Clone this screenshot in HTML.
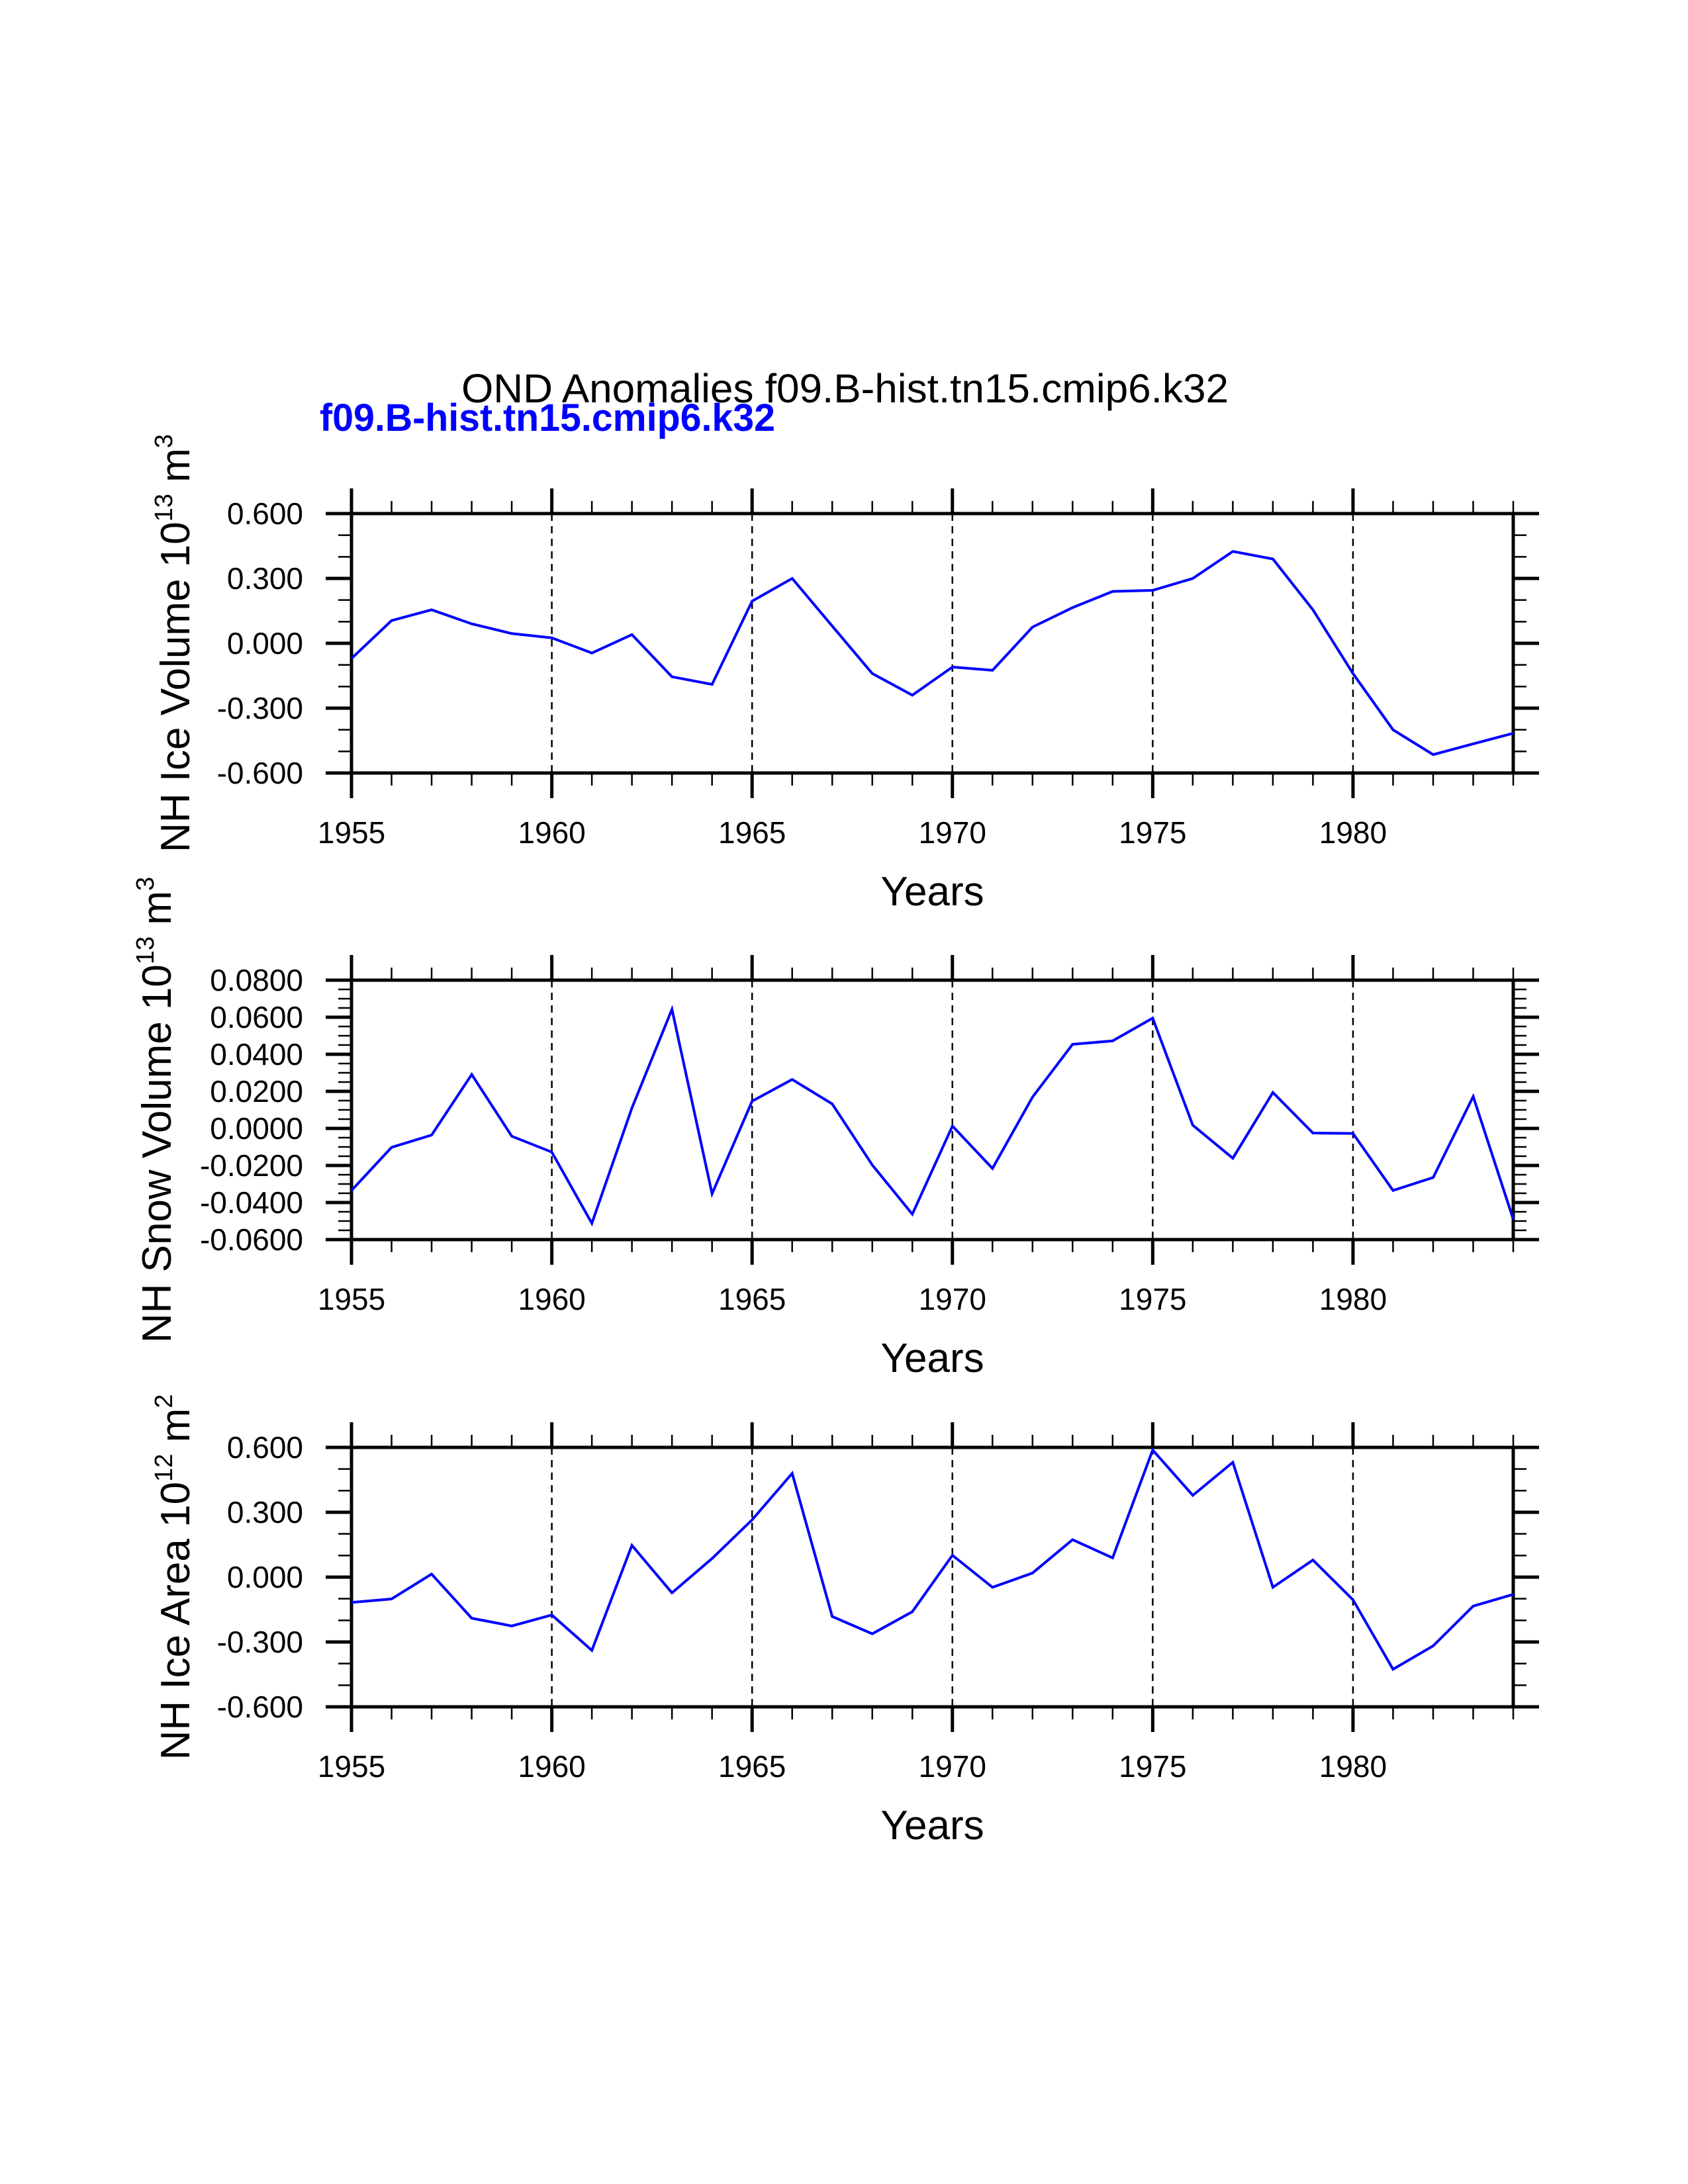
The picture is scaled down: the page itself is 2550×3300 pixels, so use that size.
<!DOCTYPE html>
<html><head><meta charset="utf-8"><style>
html,body{margin:0;padding:0;background:#fff}
svg{display:block}
text{font-family:"Liberation Sans",Arial,sans-serif}
</style></head><body>
<svg id="chart" width="2550" height="3300" viewBox="0 0 2550 3300" xmlns="http://www.w3.org/2000/svg">
<rect width="2550" height="3300" fill="#fff"/>
<text x="697" y="608" font-size="61" textLength="1159" lengthAdjust="spacingAndGlyphs">OND Anomalies f09.B-hist.tn15.cmip6.k32</text>
<text x="483" y="651" font-size="58" font-weight="bold" fill="#0000ff" textLength="688" lengthAdjust="spacingAndGlyphs">f09.B-hist.tn15.cmip6.k32</text>
<g id="panels"></g>
</svg>
<script>
const years = [1955,1956,1957,1958,1959,1960,1961,1962,1963,1964,1965,1966,1967,1968,1969,1970,1971,1972,1973,1974,1975,1976,1977,1978,1979,1980,1981,1982,1983,1984];
const iceVolume = [-0.07,0.105,0.155,0.09,0.045,0.025,-0.045,0.04,-0.155,-0.19,0.195,0.30,0.08,-0.14,-0.24,-0.11,-0.125,0.075,0.165,0.24,0.245,0.30,0.425,0.39,0.155,-0.14,-0.40,-0.515,-0.465,-0.416];
const snowVolume = [-0.0335,-0.0102,-0.0036,0.0291,-0.0042,-0.0128,-0.0512,0.0110,0.0643,-0.0353,0.0147,0.0264,0.0132,-0.0197,-0.0463,0.0013,-0.0216,0.0169,0.0454,0.0472,0.0595,0.0017,-0.0161,0.0194,-0.0025,-0.0027,-0.0335,-0.0265,0.0172,-0.049];
const iceArea = [-0.117,-0.101,0.014,-0.19,-0.226,-0.175,-0.339,0.147,-0.073,0.086,0.265,0.48,-0.182,-0.262,-0.16,0.101,-0.047,0.019,0.173,0.089,0.588,0.378,0.531,-0.047,0.079,-0.105,-0.426,-0.318,-0.134,-0.08];
const xTickLabels = ["1955","1960","1965","1970","1975","1980"];
const iceTickLabels = ["-0.600","-0.300","0.000","0.300","0.600"];
const snowTickLabels = ["-0.0600","-0.0400","-0.0200","0.0000","0.0200","0.0400","0.0600","0.0800"];

const NS="http://www.w3.org/2000/svg";
const root=document.getElementById('panels');
function mk(tag,attrs,parent){const e=document.createElementNS(NS,tag);for(const k in attrs)e.setAttribute(k,attrs[k]);(parent||root).appendChild(e);return e;}

const L=531, R=2286, H=392;
const panels=[
 {top:776,vals:iceVolume,ymin:-0.6,ymax:0.6,major:0.3,minor:0.1,labels:iceTickLabels,name:"ice-volume",title:"NH Ice Volume 10",sup1:"13",unit:" m",sup2:"3",tx:286},
 {top:1481,vals:snowVolume,ymin:-0.06,ymax:0.08,major:0.02,minor:0.005,labels:snowTickLabels,name:"snow-volume",title:"NH Snow Volume 10",sup1:"13",unit:" m",sup2:"3",tx:258},
 {top:2187,vals:iceArea,ymin:-0.6,ymax:0.6,major:0.3,minor:0.1,labels:iceTickLabels,name:"ice-area",title:"NH Ice Area 10",sup1:"12",unit:" m",sup2:"2",tx:286}
];
const x0=years[0], x1=years[years.length-1];
function xs(v){return L+(v-x0)/(x1-x0)*(R-L);}

panels.forEach(p=>{
 const T=p.top,B=p.top+H;
 const ys=v=>B-(v-p.ymin)/(p.ymax-p.ymin)*H;
 const g=mk('g',{});
 
 
 // grid dashed
 xTickLabels.forEach(s=>{const yr=+s; if(yr===x0) return;
  const l=mk('line',{x1:xs(yr),x2:xs(yr),y1:T,y2:B,stroke:'#000','stroke-width':2.5,'stroke-dasharray':'11,8'},g);
  
  
 });
 // x ticks
 for(let yr=x0; yr<=x1; yr++){
  const maj=(yr%5===0); const x=xs(yr); const len=maj?38:19; const w=maj?5:2.5;
  mk('line',{x1:x,x2:x,y1:T,y2:T-len,stroke:'#000','stroke-width':w},g);
  mk('line',{x1:x,x2:x,y1:B,y2:B+len,stroke:'#000','stroke-width':w},g);
 }
 // y ticks
 const nMinor=Math.round((p.ymax-p.ymin)/p.minor);
 const ratio=Math.round(p.major/p.minor);
 for(let i=0;i<=nMinor;i++){
  const v=p.ymin+i*p.minor; const y=ys(v); const maj=(i%ratio===0);
  const len=maj?39:20; const w=maj?5:2.5;
  mk('line',{x1:L,x2:L-len,y1:y,y2:y,stroke:'#000','stroke-width':w},g);
  mk('line',{x1:R,x2:R+len,y1:y,y2:y,stroke:'#000','stroke-width':w},g);
 }
 // frame
 const fr=mk('rect',{x:L,y:T,width:R-L,height:H,fill:'none',stroke:'#000','stroke-width':5},g);
 
 
 // y labels
 p.labels.forEach((s,i)=>{
  const v=p.ymin+i*p.major;
  const t=mk('text',{x:458,y:ys(v)+16,'font-size':46,'text-anchor':'end'},g);
  t.textContent=s;
  
  
 });
 // x labels
 xTickLabels.forEach(s=>{
  const t=mk('text',{x:xs(+s),y:B+106,'font-size':46,'text-anchor':'middle'},g);
  t.textContent=s;
  
  
 });
 // x title
 const xt=mk('text',{x:(L+R)/2,y:B+200,'font-size':62,'text-anchor':'middle'},g);
 xt.textContent='Years';
 
 
 // y title
 const yt=mk('text',{transform:`translate(${p.tx},${(T+B)/2}) rotate(-90)`,'font-size':62,'text-anchor':'middle'},g);
 
 
 const a=mk('tspan',{},yt); a.textContent=p.title;
 const b=mk('tspan',{'font-size':38,dy:-26}),_=yt.appendChild(b); b.textContent=p.sup1;
 const c=mk('tspan',{dy:26},yt); c.textContent=p.unit;
 const d=mk('tspan',{'font-size':38,dy:-26},yt); d.textContent=p.sup2;
 // series
 const pts=p.vals.map((v,i)=>xs(years[i]).toFixed(1)+','+ys(v).toFixed(1)).join(' ');
 const pl=mk('polyline',{points:pts,fill:'none',stroke:'#0000ff','stroke-width':4,'stroke-linejoin':'miter'},g);
 
 
});
</script>
</body></html>
